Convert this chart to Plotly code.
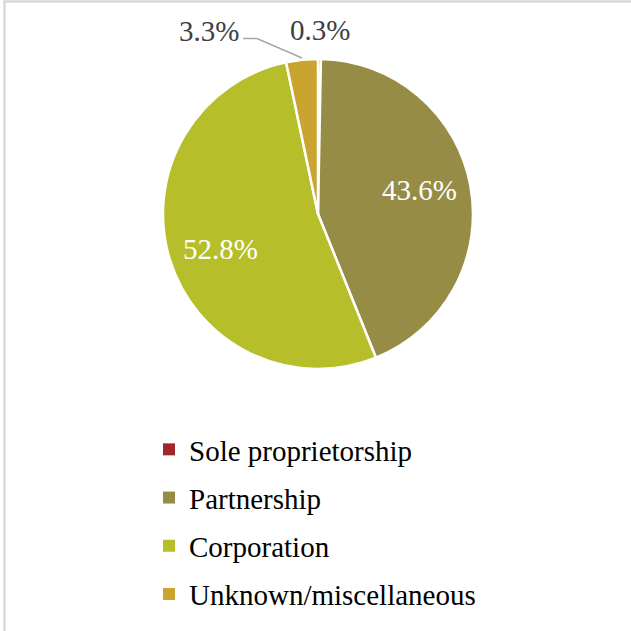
import math
import plotly.graph_objects as go

labels = ["Sole proprietorship", "Partnership", "Corporation", "Unknown/miscellaneous"]
values = [0.3, 43.6, 52.8, 3.3]
colors = ["#A3272A", "#978C46", "#B6BE2A", "#C9A42E"]
inside = [False, True, True, False]

W = H = 631
FONT = "Liberation Serif, Times New Roman, serif"
FS = 29
CX, CY, R = 318, 214, 155  # pie centre / radius in pixels


def px(x):
    return x / W


def py(y):
    return 1 - y / H


fig = go.Figure()
fig.add_trace(go.Pie(
    labels=labels, values=values, sort=False, direction="clockwise", rotation=0,
    marker=dict(colors=colors, line=dict(color="white", width=2.5)),
    textinfo="none", showlegend=False,
    domain=dict(x=[px(CX - R), px(CX + R)], y=[py(CY + R), py(CY - R)]),
    hoverinfo="label+percent",
))

# legend entries (one group each so the gap between rows can be set)
for lab, col in zip(labels, colors):
    fig.add_trace(go.Scatter(
        x=[None], y=[None], mode="markers", name=lab, legendgroup=lab,
        marker=dict(symbol="square", size=12, color=col), hoverinfo="skip",
    ))

# data labels, placed from the slice angles
annotations = []
total = sum(values)
cum = 0.0
for lab, v, ins in zip(labels, values, inside):
    mid = (cum + v / 2) / total * 2 * math.pi
    cum += v
    if ins:
        r = 0.67 * R
        a = mid - math.radians(3)
        x = CX + r * math.sin(a)
        y = CY - r * math.cos(a)
        col = "white"
    else:
        r = R + 29
        x = CX + r * math.sin(mid)
        y = CY - r * math.cos(mid)
        col = "#404040"
        if lab == "Unknown/miscellaneous":
            x -= 90  # label moved aside with a leader line
    annotations.append(dict(
        x=px(x), y=py(y), xref="paper", yref="paper", showarrow=False,
        text=f"{v:.1f}%", xanchor="center", yanchor="middle",
        font=dict(family=FONT, size=FS, color=col),
    ))

fig.update_layout(
    width=W, height=H, margin=dict(l=0, r=0, t=0, b=0),
    paper_bgcolor="white", plot_bgcolor="white",
    font=dict(family=FONT, size=FS, color="black"),
    xaxis=dict(visible=False), yaxis=dict(visible=False),
    legend=dict(x=px(149), y=py(424), xanchor="left", yanchor="top",
                font=dict(family=FONT, size=FS, color="black"),
                traceorder="grouped", tracegroupgap=7.5),
    annotations=annotations,
    shapes=[
        dict(type="rect", xref="paper", yref="paper",
             x0=px(4.5), x1=1.2, y0=-0.2, y1=py(1.5),
             line=dict(color="#D9D9D9", width=2.5), fillcolor="rgba(0,0,0,0)"),
        dict(type="path", xref="paper", yref="paper",
             path=f"M{px(243)},{py(38.5)} L{px(257)},{py(38.5)} L{px(302)},{py(58)}",
             line=dict(color="#A6A6A6", width=1.5)),
    ],
)
fig.write_html("out.html", config={"displayModeBar": False},
               post_script="document.body.style.margin='0';")
